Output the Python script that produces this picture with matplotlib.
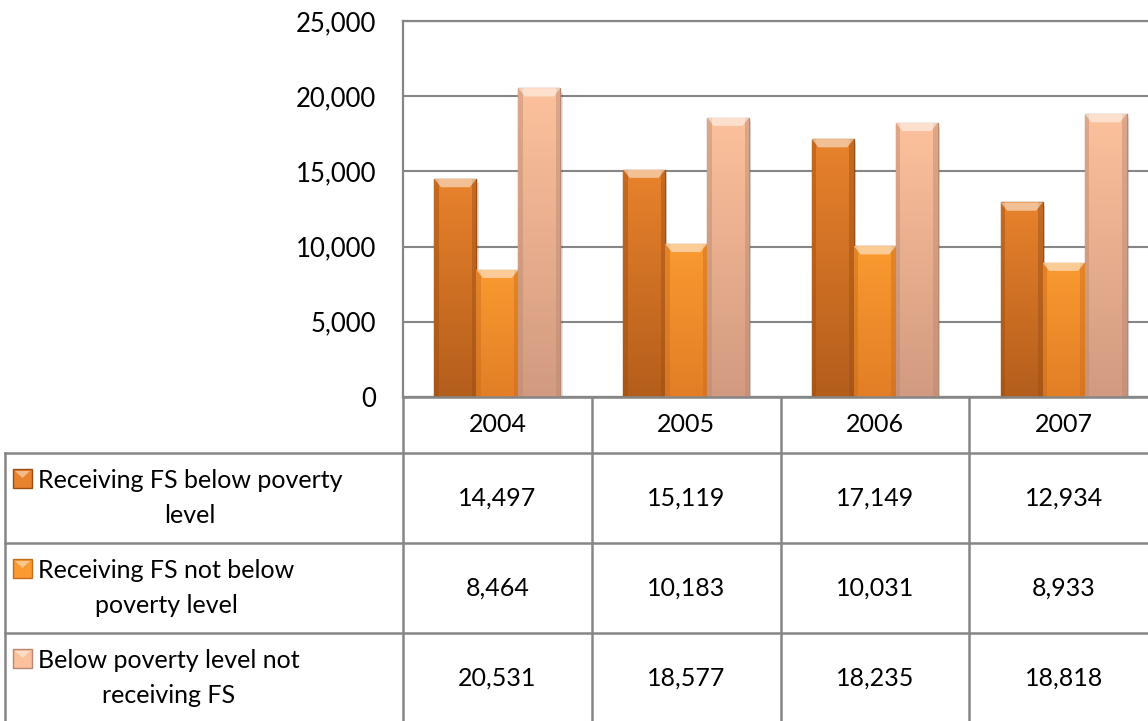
import matplotlib
matplotlib.use("Agg")
import matplotlib.pyplot as plt
import numpy as np
from matplotlib.ticker import FuncFormatter

years = ["2004", "2005", "2006", "2007"]
series_names = ["Receiving FS below poverty\nlevel",
                "Receiving FS not below\npoverty level",
                "Below poverty level not\nreceiving FS"]
below_fs = [14497, 15119, 17149, 12934]
not_below_fs = [8464, 10183, 10031, 8933]
below_no_fs = [20531, 18577, 18235, 18818]
values = [below_fs, not_below_fs, below_no_fs]

# top / bottom gradient colours for each series
top_cols = ["#E8822C", "#FA9A30", "#FCC19C"]
bot_cols = ["#B45E1C", "#E27E26", "#D29A80"]
edge_cols = ["#9A4E14", "#C86C1C", "#B88870"]

plt.rcParams['font.family'] = ['Lato', 'DejaVu Sans']
W, H = 1148, 721
fig = plt.figure(figsize=(W / 100, H / 100), dpi=100)

# pixel layout
x0 = 403          # left edge of plot / first year column
col_w = 188.75    # width of one year column
y_top, y_zero = 21, 397
ax = fig.add_axes([x0 / W, (H - y_zero) / H, 4 * col_w / W, (y_zero - y_top) / H])
ax.set_xlim(-0.5, 3.5)
ax.set_ylim(0, 25000)
ax.set_yticks(np.arange(0, 25001, 5000))
ax.yaxis.set_major_formatter(FuncFormatter(lambda v, p: f"{int(v):,}"))
ax.set_xticks([])
ax.tick_params(axis='y', length=0, pad=19.5, labelsize=18.5)
for s in ['left', 'top', 'bottom']:
    ax.spines[s].set_color('#868686')
    ax.spines[s].set_linewidth(1.6)
ax.spines['right'].set_visible(False)
ax.yaxis.grid(True, color='#868686', linewidth=1.5)
ax.set_axisbelow(True)

bw = 0.2225
x = np.arange(len(years))
for k, vals in enumerate(values):
    xs = x + (k - 1) * bw
    bars = ax.bar(xs, vals, width=bw, color=top_cols[k], edgecolor=edge_cols[k],
                  linewidth=1.0, zorder=3)
    grad = np.linspace(0, 1, 100).reshape(-1, 1)
    cmap = matplotlib.colors.LinearSegmentedColormap.from_list(
        f"g{k}", [bot_cols[k], top_cols[k]])
    for b, v, xc in zip(bars, vals, xs):
        # soft shadow
        ax.bar(xc + 0.012, v, width=bw, bottom=-250, color='#000000', alpha=0.12,
               linewidth=0, zorder=2)
        im = ax.imshow(grad, extent=[xc - bw / 2, xc + bw / 2, 0, v], origin='lower',
                       aspect='auto', cmap=cmap, zorder=3.5)
        im.set_clip_path(b)
        # darker side strips and light bevelled top cap
        ax.bar(xc - bw / 2 + 0.012, v, width=0.024, color=edge_cols[k], alpha=0.45,
               linewidth=0, zorder=4)
        ax.bar(xc + bw / 2 - 0.012, v, width=0.024, color=edge_cols[k], alpha=0.45,
               linewidth=0, zorder=4)
        ax.add_patch(plt.Polygon([[xc - bw / 2, v], [xc + bw / 2, v],
                                  [xc + bw / 2 - 0.035, v - 550],
                                  [xc - bw / 2 + 0.035, v - 550]],
                                 facecolor='#FFFFFF', alpha=0.5, linewidth=0, zorder=4.5))
ax.set_xlim(-0.5, 3.5)
ax.set_ylim(0, 25000)

# data table drawn in pixel coordinates
tab = fig.add_axes([0, 0, 1, 1])
tab.set_xlim(0, W)
tab.set_ylim(H, 0)
tab.axis('off')
line_kw = dict(color='#868686', linewidth=1.8)
row_y = [397, 453, 543, 633, 723]
cols = [x0 + i * col_w for i in range(len(years) + 1)]
left = 5
# horizontal lines
tab.plot([x0, W], [row_y[0], row_y[0]], **line_kw)
for yy in row_y[1:]:
    tab.plot([left, W], [yy, yy], **line_kw)
# vertical lines
tab.plot([left, left], [row_y[1], H], **line_kw)
for cx in cols[:-1]:
    tab.plot([cx, cx], [row_y[0], H], **line_kw)

fs = 18
for i, yr in enumerate(years):
    tab.text(cols[i] + col_w / 2, (row_y[0] + row_y[1]) / 2, yr, ha='center',
             va='center', fontsize=fs)
for r, (name, vals) in enumerate(zip(series_names, values)):
    yc = (row_y[r + 1] + row_y[r + 2]) / 2
    tab.text(38, yc, name, ha='left', va='center', multialignment='center',
             fontsize=fs, linespacing=1.65)
    # legend marker
    my = yc - 20
    tab.add_patch(plt.Rectangle((13, my - 9), 19, 19, facecolor=top_cols[r],
                                edgecolor=edge_cols[r], linewidth=1))
    tab.add_patch(plt.Polygon([[15, my - 7], [30, my - 7], [22.5, my]],
                              facecolor='#FFFFFF', alpha=0.45, linewidth=0))
    for i, v in enumerate(vals):
        tab.text(cols[i] + col_w / 2, yc, f"{v:,}", ha='center', va='center',
                 fontsize=fs)

fig.savefig("out.png", dpi=100)
